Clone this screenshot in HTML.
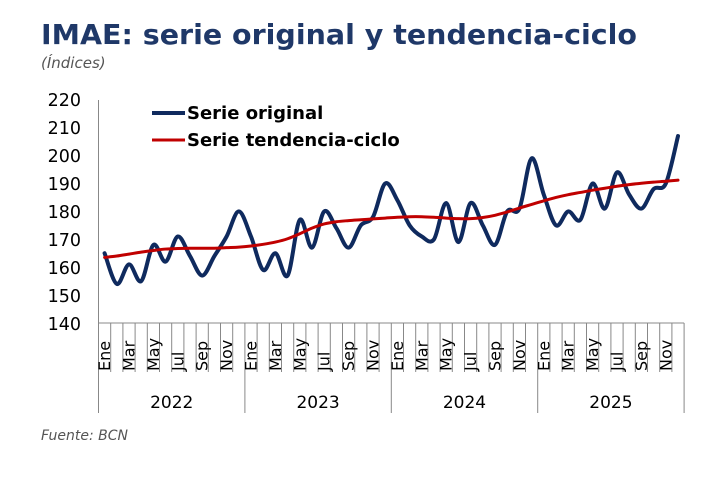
<!DOCTYPE html>
<html><head><meta charset="utf-8"><style>
body{margin:0;background:#fff;}
svg{display:block;font-family:"DejaVu Sans","Liberation Sans",sans-serif;}
</style></head><body>
<svg id="s" width="714" height="490" viewBox="0 0 714 490" xmlns="http://www.w3.org/2000/svg">
<text x="41" y="44" font-size="28" font-weight="bold" fill="#1f3868" textLength="596" lengthAdjust="spacingAndGlyphs">IMAE: serie original y tendencia-ciclo</text>
<text x="41" y="68" font-size="15" font-style="italic" fill="#555">(Índices)</text>
<g font-size="17.5" fill="#000" text-anchor="end">
<text x="81" y="106">220</text><text x="81" y="134">210</text><text x="81" y="162">200</text>
<text x="81" y="190">190</text><text x="81" y="218">180</text><text x="81" y="246">170</text>
<text x="81" y="274">160</text><text x="81" y="302">150</text><text x="81" y="330">140</text>
</g>
<g id="ax" stroke="#888" stroke-width="1"></g>
<g id="lab" font-size="16" fill="#000"></g>
<g font-size="17" fill="#000" text-anchor="middle">
<text x="171.7" y="408">2022</text><text x="318.1" y="408">2023</text>
<text x="464.5" y="408">2024</text><text x="610.9" y="408">2025</text>
</g>
<text x="41" y="440" font-size="14" font-style="italic" fill="#555">Fuente: BCN</text>
<path id="orig" fill="none" stroke="#0f2a5e" stroke-width="4" stroke-linejoin="round" stroke-linecap="round"/>
<path id="tr" fill="none" stroke="#c00000" stroke-width="3" stroke-linecap="round"/>
<line x1="152" y1="113" x2="185" y2="113" stroke="#0f2a5e" stroke-width="4"/>
<text x="187" y="119" font-size="18" font-weight="bold">Serie original</text>
<line x1="152" y1="140" x2="185" y2="140" stroke="#c00000" stroke-width="3"/>
<text x="187" y="146" font-size="18" font-weight="bold">Serie tendencia-ciclo</text>
</svg>
<script>
var L=98.5,W=12.2,B=323;
function X(i){return L+W*(i+0.5);}
function Y(v){return B-(v-140)*2.79;}
var ns="http://www.w3.org/2000/svg";
var ax=document.getElementById('ax'),lab=document.getElementById('lab');
function ln(x1,y1,x2,y2){var l=document.createElementNS(ns,'line');l.setAttribute('x1',x1);l.setAttribute('y1',y1);l.setAttribute('x2',x2);l.setAttribute('y2',y2);ax.appendChild(l);}
ln(L,100,L,413);ln(L,B,L+W*48,B);
for(var i=1;i<=48;i++){var x=L+W*i;ln(x,B,x,i%12==0?413:372);}
var m=["Ene","Mar","May","Jul","Sep","Nov"];
for(var i=0;i<48;i+=2){var t=document.createElementNS(ns,'text');var x=X(i)+5.5,y=371;t.setAttribute('transform','translate('+x+','+y+') rotate(-90)');t.textContent=m[(i%12)/2];lab.appendChild(t);}
var o=[165,154,161,155,168,162,171,164,157,164,171,180,171,159,165,157,177,167,180,174,167,175,178,190,184,175,171,170,183,169,183,175,168,180,181,199,186,175,180,177,190,181,194,186,181,188,190,207];
var tr=[163.5,164,164.7,165.4,166,166.5,166.7,166.8,166.8,166.8,167,167.2,167.6,168.2,169,170.2,172,174,175.5,176.3,176.7,177,177.3,177.6,177.9,178.1,178.1,177.9,177.6,177.4,177.4,177.8,178.6,179.8,181.2,182.5,183.8,185,186,186.8,187.6,188.3,189,189.6,190.1,190.5,190.8,191.2];
function path(a){var p=a.map(function(v,i){return[X(i),Y(v)]});var d="M"+p[0][0]+","+p[0][1];
for(var i=0;i<p.length-1;i++){var p0=p[i-1]||p[i],p1=p[i],p2=p[i+1],p3=p[i+2]||p2;
var c1=[p1[0]+(p2[0]-p0[0])/6,p1[1]+(p2[1]-p0[1])/6],c2=[p2[0]-(p3[0]-p1[0])/6,p2[1]-(p3[1]-p1[1])/6];
d+=" C"+c1+" "+c2+" "+p2;}return d;}
document.getElementById('orig').setAttribute('d',path(o));
document.getElementById('tr').setAttribute('d',path(tr));
</script>
</body></html>
